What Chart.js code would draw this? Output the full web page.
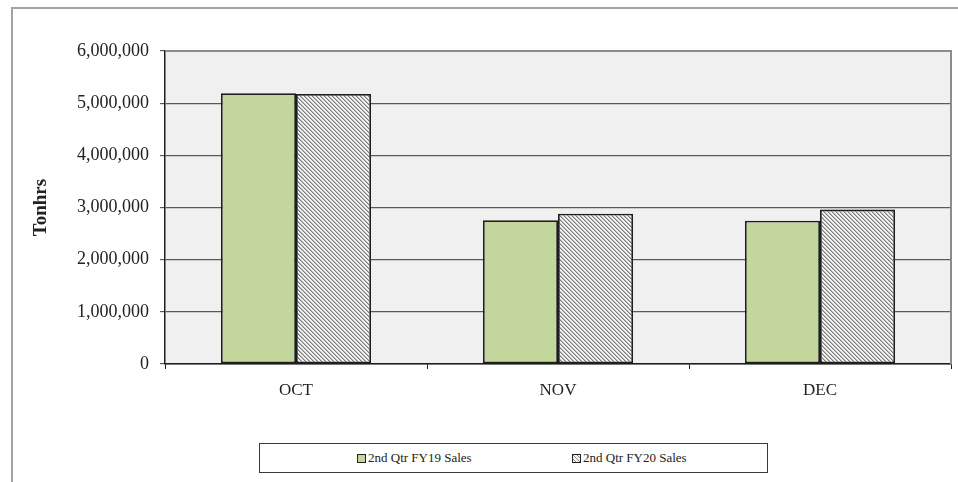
<!DOCTYPE html>
<html>
<head>
<meta charset="utf-8">
<script src="https://cdn.jsdelivr.net/npm/chart.js@4.4.1/dist/chart.umd.min.js"></script>
<style>
    html, body { margin: 0; padding: 0; background: #ffffff; }
    #wrap { position: relative; width: 958px; height: 482px; }
    #frame {
        position: absolute; left: 11px; top: 7px; right: 0; bottom: 0;
        border-top: 2px solid #a3a3a3; border-left: 2px solid #a3a3a3;
    }
    #salesChart { position: absolute; left: 0; top: 0; }
    #legend {
        position: absolute; left: 259px; top: 443px; width: 507px; height: 28px;
        border: 1.5px solid #3a3a3a; background: #fff;
        font-family: 'Liberation Serif', 'Times New Roman', serif; font-size: 13px; color: #222;
    }
    .legend-item { position: absolute; top: 0; height: 28px; display: flex; align-items: center; }
    .legend-box { width: 7px; height: 7px; border: 1.5px solid #222; margin-right: 2px; }
</style>
</head>
<body>
<div id="wrap">
    <div id="frame"></div>
    <canvas id="salesChart" width="958" height="482"></canvas>
    <div id="legend"></div>
</div>
<script>
// 월별 판매량 (Tonhrs)
const months = ['OCT', 'NOV', 'DEC'];
const seriesNames = ['2nd Qtr FY19 Sales', '2nd Qtr FY20 Sales'];
const fy19Sales = [5190000, 2757000, 2745000];
const fy20Sales = [5178000, 2880000, 2960000];
const yMax = 6000000;
const yStep = 1000000;

const palette = {
    green: '#c3d69b',
    edge: '#1e1e1e',
    grid: '#5a5a5a',
    plotBg: '#f0f0f0',
    plotEdge: '#8c8c8c',
    text: '#222222'
};

/**
 * 사선(\) 해칭 패턴 생성 - 픽셀 단위로 찍어서 선명하게
 */
function makeHatch() {
    const size = 4;
    const tile = document.createElement('canvas');
    tile.width = size;
    tile.height = size;
    const c = tile.getContext('2d');
    const shades = ['#7c7c7c', '#b8b8b8', '#f2f2f2', '#f2f2f2'];
    for (let y = 0; y < size; y++) {
        for (let x = 0; x < size; x++) {
            c.fillStyle = shades[(x - y + size) % size];
            c.fillRect(x, y, 1, 1);
        }
    }
    return c.createPattern(tile, 'repeat');
}

// 플롯 영역 배경 + 위/오른쪽 테두리
const plotAreaPlugin = {
    id: 'plotArea',
    beforeDraw(chart) {
        const { ctx, chartArea: a } = chart;
        ctx.save();
        ctx.fillStyle = palette.plotBg;
        ctx.fillRect(a.left, a.top, a.right - a.left, a.bottom - a.top);
        ctx.restore();
    },
    afterDraw(chart) {
        const { ctx, chartArea: a } = chart;
        ctx.save();
        ctx.strokeStyle = palette.plotEdge;
        ctx.lineWidth = 2;
        ctx.beginPath();
        ctx.moveTo(a.left, a.top);
        ctx.lineTo(a.right, a.top);
        ctx.lineTo(a.right, a.bottom);
        ctx.stroke();
        ctx.restore();
    }
};

const serif = 'Liberation Serif';
const hatch = makeHatch();

const chart = new Chart(document.getElementById('salesChart'), {
    type: 'bar',
    data: {
        labels: months,
        datasets: [
            { label: seriesNames[0], data: fy19Sales, backgroundColor: palette.green },
            { label: seriesNames[1], data: fy20Sales, backgroundColor: hatch }
        ].map(ds => Object.assign(ds, {
            borderColor: palette.edge,
            borderWidth: 1.8,
            borderSkipped: false,
            barPercentage: 1,
            categoryPercentage: 0.573
        }))
    },
    options: {
        responsive: false,
        animation: false,
        layout: { padding: { left: 30, top: 51, right: 7, bottom: 0 } },
        plugins: {
            legend: { display: false },
            tooltip: { enabled: false }
        },
        scales: {
            x: {
                grid: {
                    offset: true,
                    drawOnChartArea: false,
                    drawTicks: true,
                    tickLength: 5,
                    color: palette.edge
                },
                border: { color: palette.edge, width: 1.5 },
                ticks: {
                    padding: 11,
                    color: palette.text,
                    font: { family: serif, size: 17 }
                },
                afterFit(scale) { scale.height = 118; }
            },
            y: {
                min: 0,
                max: yMax,
                grid: { color: palette.grid, lineWidth: 1.2, tickLength: 5 },
                border: { color: palette.edge, width: 1.5 },
                ticks: {
                    stepSize: yStep,
                    padding: 11,
                    color: palette.text,
                    font: { family: serif, size: 18 },
                    callback: v => v.toLocaleString('en-US')
                },
                title: {
                    display: true,
                    text: 'Tonhrs',
                    color: palette.text,
                    padding: 0,
                    font: { family: serif, size: 19, weight: 'bold' }
                },
                afterFit(scale) { scale.width = 135; }
            }
        }
    },
    plugins: [plotAreaPlugin]
});

// HTML 범례
const legendEl = document.getElementById('legend');
const legendOffsets = [97, 312];
chart.data.datasets.forEach((ds, i) => {
    const item = document.createElement('div');
    item.className = 'legend-item';
    item.style.left = legendOffsets[i] + 'px';
    const box = document.createElement('span');
    box.className = 'legend-box';
    box.style.background = i === 0
        ? palette.green
        : 'repeating-linear-gradient(45deg, #f3f3f3 0 1.5px, #8a8a8a 1.5px 2.8px)';
    const label = document.createElement('span');
    label.textContent = ds.label;
    item.appendChild(box);
    item.appendChild(label);
    legendEl.appendChild(item);
});
</script>
</body>
</html>
